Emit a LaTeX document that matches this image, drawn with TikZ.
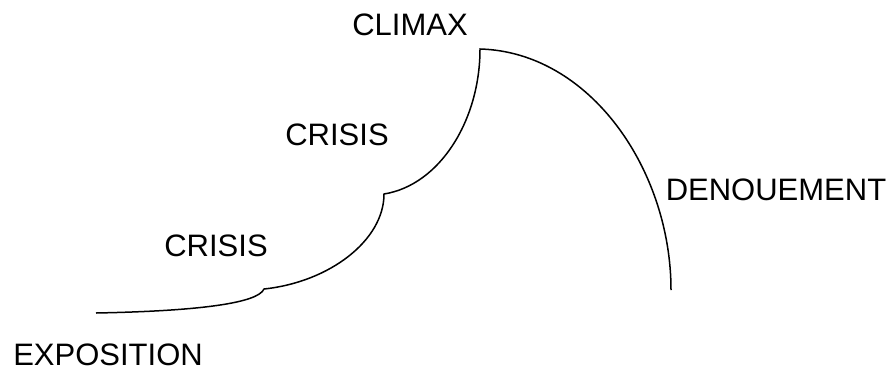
\documentclass[tikz,border=0pt]{standalone}
\usepackage{fontspec}
\setmainfont{Liberation Sans}
\usepackage{tikz}
\tikzset{stage/.style={inner sep=0pt, font=\fontsize{31}{37}\selectfont},
  arc line/.style={draw=black, line width=1.5pt}}

\begin{document}
\begin{tikzpicture}[x=1pt, y=-1pt]
  \useasboundingbox (0,0) rectangle (890,372);
  \node[stage] (expo) at (108,355) {EXPOSITION};
  \node[stage] (crisisA) at (216,246) {CRISIS};
  \node[stage] (crisisB) at (337,135) {CRISIS};
  \node[stage] (climax) at (410,25) {CLIMAX};
  \node[stage] (denoue) at (776,190) {DENOUEMENT};
  % the plot line
  \draw[arc line] (96,313) .. controls (200,311) and (258,303) .. (264,289)
    .. controls (330,282) and (384,240) .. (384,194)
    .. controls (440,185) and (480,120) .. (480,49)
    .. controls (590,52) and (671,170) .. (671,290);
\end{tikzpicture}
\end{document}
